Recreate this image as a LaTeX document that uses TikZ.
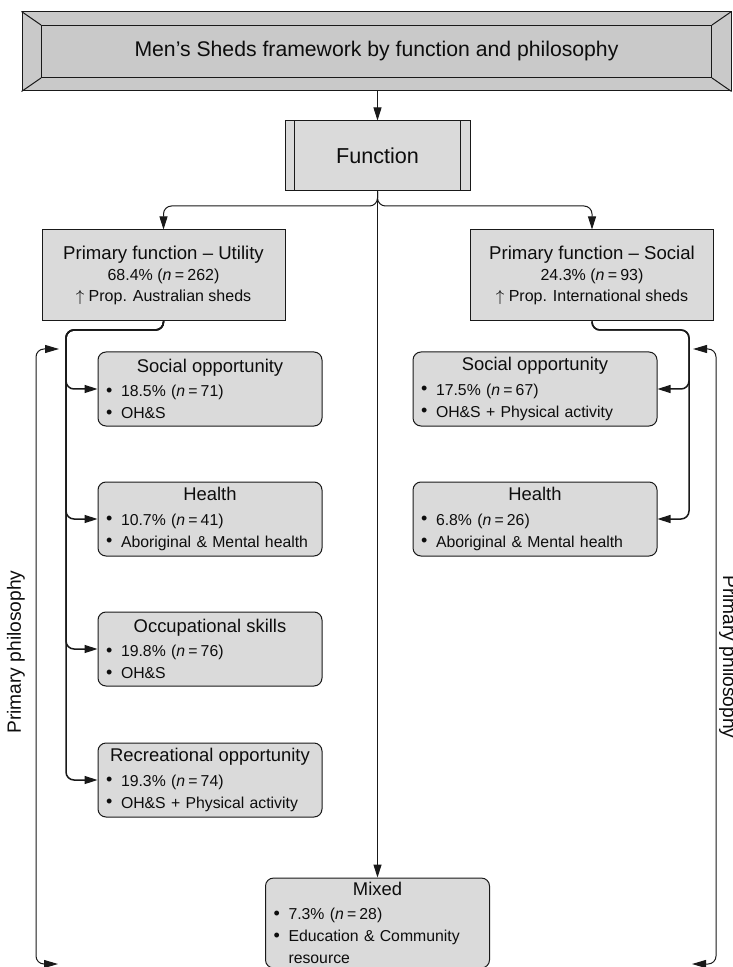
\documentclass[tikz,border=0pt]{standalone}
\usepackage{fontspec}
\setmainfont{Liberation Sans}
\usetikzlibrary{arrows.meta,calc}

\definecolor{cTitle}{gray}{0.79}
\definecolor{cBox}{gray}{0.855}
\definecolor{cLine}{gray}{0.10}
\definecolor{cText}{gray}{0.05}

\newcommand{\boxhead}[1]{{\centering\fontsize{9.2}{11}\selectfont #1\par}\vspace{1.2pt}}
\newcommand{\bul}[1]{\par\noindent\makebox[7.5pt][l]{\raisebox{0.2pt}{\fontsize{9}{9}\selectfont\textbullet}}#1}
\newcommand{\nn}[1]{(\textit{n}\hspace{1.6pt}=\hspace{1.6pt}#1)}

\begin{document}
\begin{tikzpicture}[x=0.5pt, y=-0.5pt,
    line/.style={draw=cLine, line width=0.5pt},
    tip/.style={-{Triangle[length=6.5pt,width=4pt]}},
    arr/.style={line, tip},
    trunk/.style={line width=0.75pt},
    titlebox/.style={line, fill=cTitle, minimum width=354.5pt, minimum height=39.5pt, inner sep=0pt},
    titlein/.style={line, minimum width=335pt, minimum height=26pt, inner sep=0pt, text=cText, font=\fontsize{10.6}{12}\selectfont},
    fnbox/.style={line, fill=cBox, minimum width=92.5pt, minimum height=35pt, text=cText, font=\fontsize{10.8}{12}\selectfont},
    primbox/.style={line, fill=cBox, minimum width=121.5pt, minimum height=45.5pt, align=center, text=cText, font=\fontsize{8}{10.5}\selectfont},
    subbox/.style={line, fill=cBox, rounded corners=4pt, text width=#1, inner xsep=4pt, inner ysep=2pt, minimum height=37pt, align=left, text=cText, font=\fontsize{7.9}{11}\selectfont},
    subbox/.default=104pt,
    philo/.style={inner sep=0pt, text=cText, font=\fontsize{9.6}{11}\selectfont}]

\useasboundingbox (0,0) rectangle (732,967);

% ── Title (bevelled frame) ──
\node[titlebox] (title) at (376.5,51.5) {};
\node[titlein] (titletext) at (title.center) {Men’s Sheds framework by function and philosophy};
\foreach \c in {north west, north east, south east, south west}
    \draw[line] (title.\c) -- (titletext.\c);

% ── Function ──
\node[fnbox] (fn) at (377.5,156) {Function};
\draw[line] ($(fn.north west)+(10,0)$) -- ($(fn.south west)+(10,0)$);
\draw[line] ($(fn.north east)+(-10,0)$) -- ($(fn.south east)+(-10,0)$);
\draw[arr] (title.south -| fn.north) -- (fn.north);

% ── Primary function boxes ──
\node[primbox] (util) at (163.5,275.5) {{\fontsize{9.3}{11}\selectfont Primary function – Utility}\\
    68.4\% \nn{262}\\ $\uparrow$ Prop. Australian sheds};
\node[primbox] (soc) at (592,275.5) {{\fontsize{9.3}{11}\selectfont Primary function – Social}\\
    24.3\% \nn{93}\\ $\uparrow$ Prop. International sheds};

% ── Utility sub-functions ──
\node[subbox] (uso) at (210,389) {\boxhead{Social opportunity}\bul{18.5\% \nn{71}}\bul{OH\&S}};
\node[subbox] (uhe) at (210,519) {\boxhead{Health}\bul{10.7\% \nn{41}}\bul{Aboriginal \& Mental health}};
\node[subbox] (uocc) at (210,649) {\boxhead{Occupational skills}\bul{19.8\% \nn{76}}\bul{OH\&S}};
\node[subbox] (urec) at (210,780) {\boxhead{Recreational opportunity}\bul{19.3\% \nn{74}}\bul{OH\&S + Physical activity}};

% ── Social sub-functions ──
\node[subbox=114pt] (sso) at (535,389) {\boxhead{Social opportunity}\bul{17.5\% \nn{67}}\bul{OH\&S + Physical activity}};
\node[subbox=114pt] (she) at (535,519) {\boxhead{Health}\bul{6.8\% \nn{26}}\bul{Aboriginal \& Mental health}};

% ── Mixed ──
\node[subbox, minimum height=43pt] (mix) at (377.5,923) {\boxhead{Mixed}\bul{7.3\% \nn{28}}\bul{Education \& Community}\par\noindent\hspace*{7.5pt}resource};

% ── Function fork ──
\coordinate (fork) at (377.5,206);
\draw[arr, rounded corners=4pt] (fn.south) -- (fork) -| (util.north);
\draw[arr, rounded corners=4pt] (fn.south) -- (fork) -| (soc.north);
\draw[arr] (fn.south) -- (mix.north);

% ── Trunks to sub-functions ──
\coordinate (utrunk) at (66,330);
\foreach \k in {uso,uhe,uocc,urec}
    \draw[arr, trunk, rounded corners=4pt] (util.south) |- (utrunk) |- (\k.west);
\coordinate (strunk) at (689,330);
\foreach \k in {sso,she}
    \draw[arr, trunk, rounded corners=4pt] (soc.south) |- (strunk) |- (\k.east);

% ── Philosophy brackets ──
\coordinate (lphtop) at (59,349);
\coordinate (lphmid) at (36,650);
\coordinate (lphbot) at (58,964);
\draw[line, {Triangle[length=7pt,width=4pt]}-{Triangle[length=7pt,width=4pt]}, rounded corners=4pt]
    (lphtop) -| (lphmid) |- (lphbot);
\node[philo, rotate=90] (lph) at (16,652) {Primary philosophy};

\coordinate (rphtop) at (693,349);
\coordinate (rphmid) at (716,650);
\coordinate (rphbot) at (692,964);
\draw[line, {Triangle[length=7pt,width=4pt]}-{Triangle[length=7pt,width=4pt]}, rounded corners=4pt]
    (rphtop) -| (rphmid) |- (rphbot);
\node[philo, rotate=-90] (rph) at (728,657) {Primary philosophy};

\end{tikzpicture}
\end{document}
